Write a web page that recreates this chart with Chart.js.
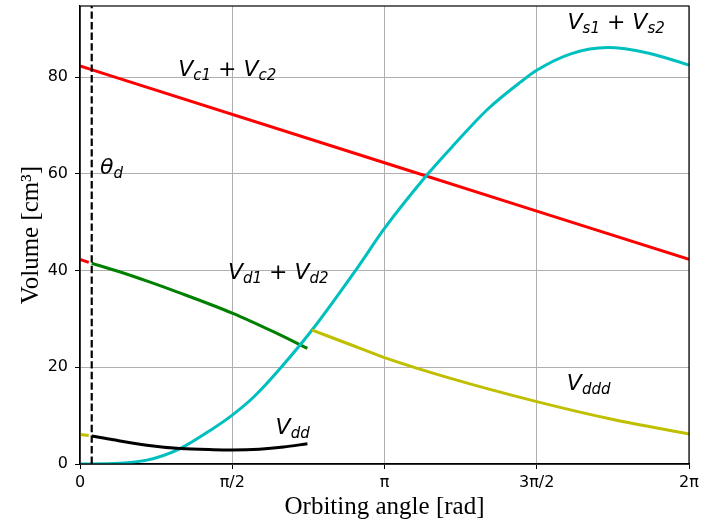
<!DOCTYPE html>
<html>
<head>
<meta charset="utf-8">
<script src="https://cdn.jsdelivr.net/npm/chart.js@4.4.0/dist/chart.umd.min.js"></script>
<style>
  html, body { margin: 0; padding: 0; background: #fff; }
  #wrap { width: 706px; height: 524px; }
</style>
</head>
<body>
<div id="wrap"><canvas id="volChart" width="706" height="524"></canvas></div>
<script>
// axis ticks (orbiting angle in rad)
const xTicks = [0, Math.PI / 2, Math.PI, 3 * Math.PI / 2, 2 * Math.PI];
const xTickLabels = ['0', 'π/2', 'π', '3π/2', '2π'];
const yTicks = [0, 20, 40, 60, 80];

// discharge angle
const thetaD = 0.121;

// Vc1 + Vc2
const vcAngle = [0, 3.1416, 6.2832];
const vcValue = [82.3, 62.3, 42.3];
const vcTailAngle = [0, 0.09];
const vcTailValue = [42.3, 41.7];

// Vs1 + Vs2
const vsAngle = [0, 0.344, 0.689, 1.033, 1.378, 1.571, 1.8, 2.067, 2.394, 2.842, 3.1416, 3.59, 3.858, 4.203, 4.547, 4.712, 5.064, 5.443, 5.857, 6.2832];
const vsValue = [0, 0.1, 0.8, 3.2, 7.4, 10.1, 14.0, 19.8, 27.7, 40.0, 48.7, 60.0, 66.0, 73.3, 79.0, 81.4, 84.8, 86.1, 85.0, 82.5];

// Vd1 + Vd2
const vdAngle = [0.121, 0.4, 0.723, 1.0, 1.571, 2.0, 2.346];
const vdValue = [41.5, 39.8, 37.6, 35.6, 31.2, 27.3, 23.9];

// Vdd
const vddAngle = [0.121, 0.344, 0.689, 1.033, 1.378, 1.571, 1.85, 2.10, 2.346];
const vddValue = [5.8, 5.0, 3.9, 3.2, 2.95, 2.9, 3.05, 3.5, 4.2];

// Vddd
const vdddAngle = [2.394, 2.8, 3.1416, 3.824, 4.712, 5.5, 6.2832];
const vdddValue = [27.7, 24.6, 22.0, 17.7, 12.9, 9.2, 6.2];
const vdddTailAngle = [0, 0.09];
const vdddTailValue = [6.1, 5.9];

// dashed marker
const markAngle = [thetaD, thetaD];
const markValue = [0, 100];

function pts(xs, ys) {
    return xs.map((x, i) => ({ x: x, y: ys[i] }));
}

function line(label, xs, ys, color, extra) {
    return Object.assign({
        label: label,
        data: pts(xs, ys),
        borderColor: color,
        backgroundColor: color,
        borderWidth: 3,
        pointRadius: 0,
        showLine: true,
        fill: false,
        cubicInterpolationMode: 'monotone'
    }, extra || {});
}

// text labels, anchored in data coordinates (left, baseline)
// part kinds: 0 = italic symbol, 1 = italic subscript, 2 = upright operator
const mathLabels = [
    { x: 1.013, y: 80.2, parts: [['V', 0], ['c1', 1], [' + ', 2], ['V', 0], ['c2', 1]] },
    { x: 5.03, y: 89.9, parts: [['V', 0], ['s1', 1], [' + ', 2], ['V', 0], ['s2', 1]] },
    { x: 0.207, y: 60.0, parts: [['θ', 0], ['d', 1]] },
    { x: 1.526, y: 38.2, parts: [['V', 0], ['d1', 1], [' + ', 2], ['V', 0], ['d2', 1]] },
    { x: 2.018, y: 6.3, parts: [['V', 0], ['dd', 1]] },
    { x: 5.023, y: 15.2, parts: [['V', 0], ['ddd', 1]] }
];

const labelPlugin = {
    id: 'mathLabels',
    afterDatasetsDraw(chart) {
        const ctx = chart.ctx;
        const xs = chart.scales.x, ys = chart.scales.y;
        const a = chart.chartArea;
        ctx.save();
        // top/right frame
        ctx.strokeStyle = '#000';
        ctx.lineWidth = 1.2;
        ctx.strokeRect(a.left, a.top, a.right - a.left, a.bottom - a.top);

        ctx.fillStyle = '#000';
        ctx.textBaseline = 'alphabetic';
        ctx.textAlign = 'left';
        mathLabels.forEach(l => {
            let px = xs.getPixelForValue(l.x);
            const py = ys.getPixelForValue(l.y);
            l.parts.forEach(([t, kind]) => {
                if (kind === 0) ctx.font = 'italic 22px "DejaVu Sans"';
                else if (kind === 1) ctx.font = 'italic 15px "DejaVu Sans"';
                else ctx.font = '22px "DejaVu Sans"';
                const dy = kind === 1 ? 4 : 0;
                ctx.fillText(t, px, py + dy);
                px += ctx.measureText(t).width;
            });
        });
        ctx.restore();
    }
};

const ctx = document.getElementById('volChart').getContext('2d');
new Chart(ctx, {
    type: 'scatter',
    data: {
        datasets: [
            line('theta_d', markAngle, markValue, '#000', { borderWidth: 2.2, borderDash: [7.4, 3.2], cubicInterpolationMode: 'default' }),
            line('Vc tail', vcTailAngle, vcTailValue, '#ff0000'),
            line('Vddd tail', vdddTailAngle, vdddTailValue, '#bfbf00'),
            line('Vdd', vddAngle, vddValue, '#000'),
            line('Vddd', vdddAngle, vdddValue, '#bfbf00'),
            line('Vs1 + Vs2', vsAngle, vsValue, '#00bfbf'),
            line('Vd1 + Vd2', vdAngle, vdValue, '#008000'),
            line('Vc1 + Vc2', vcAngle, vcValue, '#ff0000')
        ]
    },
    options: {
        responsive: false,
        animation: false,
        devicePixelRatio: 1,
        layout: { padding: { top: 6, right: 17, left: 0, bottom: 0 } },
        plugins: {
            legend: { display: false },
            tooltip: { enabled: false }
        },
        scales: {
            x: {
                type: 'linear',
                min: 0,
                max: 2 * Math.PI,
                afterBuildTicks: s => { s.ticks = xTicks.map(v => ({ value: v })); },
                afterFit: s => { s.height = 60; s.paddingLeft = 0; s.paddingRight = 0; },
                ticks: {
                    callback: (v, i) => xTickLabels[i],
                    color: '#000',
                    font: { family: 'DejaVu Sans', size: 16 },
                    padding: 4,
                    autoSkip: false,
                    maxRotation: 0
                },
                grid: { color: '#b0b0b0', lineWidth: 1, tickLength: 5, tickColor: '#000' },
                border: { color: '#000', width: 1.2 },
                title: {
                    display: true,
                    text: 'Orbiting angle [rad]',
                    color: '#000',
                    font: { family: 'Liberation Serif', size: 25 },
                    padding: { top: 0, bottom: 2 }
                }
            },
            y: {
                min: 0,
                max: 94.7,
                afterBuildTicks: s => { s.ticks = yTicks.map(v => ({ value: v })); },
                afterFit: s => { s.width = 80; s.paddingTop = 0; s.paddingBottom = 0; },
                ticks: {
                    color: '#000',
                    font: { family: 'DejaVu Sans', size: 16 },
                    padding: 7
                },
                grid: { color: '#b0b0b0', lineWidth: 1, tickLength: 5, tickColor: '#000' },
                border: { color: '#000', width: 1.2 },
                title: {
                    display: true,
                    text: 'Volume [cm³]',
                    color: '#000',
                    font: { family: 'Liberation Serif', size: 25 },
                    padding: { top: 16, bottom: 0 }
                }
            }
        }
    },
    plugins: [labelPlugin]
});
</script>
</body>
</html>
